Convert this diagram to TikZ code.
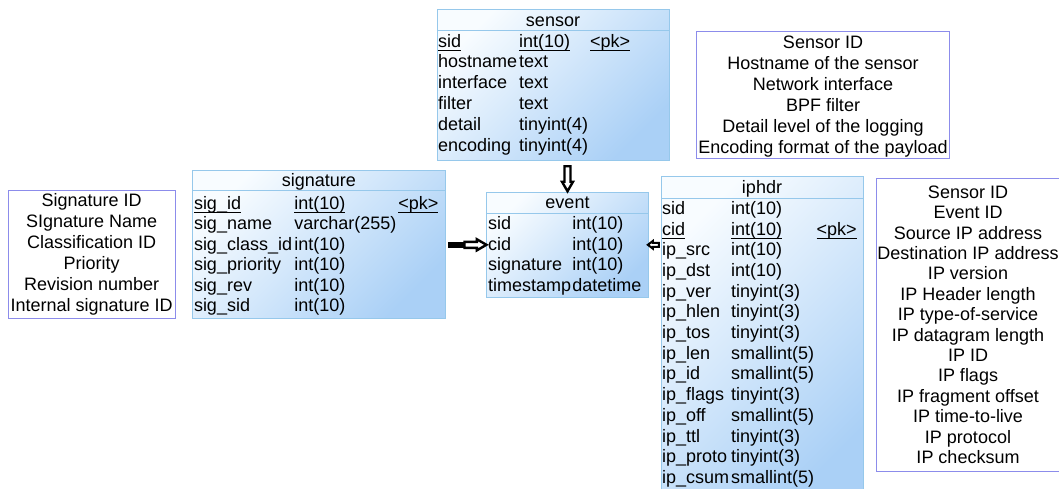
\documentclass[tikz,border=0pt]{standalone}
\usepackage{fontspec}
\setmainfont{Liberation Sans}
\usetikzlibrary{shapes.arrows}
\definecolor{entb}{RGB}{150,200,235}
\definecolor{enttop}{RGB}{248,252,255}
\definecolor{entbot}{RGB}{170,208,246}
\definecolor{descb}{RGB}{140,140,235}
\newcommand\fs{\fontsize{18pt}{21pt}\selectfont}
\newcommand\ulx[1]{\setbox0\hbox{#1}\rlap{\rule[-3.6pt]{\wd0}{1.1pt}}\box0}
\begin{document}
\begin{tikzpicture}[x=1pt,y=1pt,
 entity/.style={draw=entb, line width=0.9pt, top color=enttop, bottom color=entbot, shading angle=45, anchor=north west, inner sep=0, outer sep=0},
 cell/.style={anchor=base west, inner sep=0, outer sep=0, font=\fs},
 ttl/.style={anchor=base, inner sep=0, font=\fs},
 desc/.style={draw=descb, line width=0.8pt, fill=white, anchor=north west, inner sep=0, outer sep=0},
 dline/.style={anchor=base, inner sep=0, font=\fs},
 sepline/.style={draw=entb, line width=0.9pt},
 blockarrow/.style={single arrow, draw=black, line width=2.4pt, fill=white, inner xsep=0pt, inner ysep=1.8pt, outer sep=0, single arrow head extend=2.5pt, single arrow tip angle=60, line join=miter},
 smallarrow/.style={single arrow, draw=black, line width=2pt, fill=white, inner xsep=0pt, inner ysep=1pt, outer sep=0, single arrow head extend=1.8pt, single arrow tip angle=75}
]
\useasboundingbox (0,0) rectangle (1059,-488);

% ---------------- sensor ----------------
\node[entity, minimum width=231.5, minimum height=151] (sensor) at (437.5,-9) {};
\draw[sepline] (437.5,-30.5) -- (669,-30.5);
\node[ttl] (sensorT) at (553,-26.5) {sensor};
\node[cell] (sensorN0) at (438,-47) {\ulx{sid}};
\node[cell] (sensorT0) at (519,-47) {\ulx{int(10)}};
\node[cell] (sensorP0) at (590,-47) {\ulx{<pk>}};
\foreach \n/\t [count=\i] in {hostname/text, interface/text, filter/text, detail/tinyint(4), encoding/tinyint(4)}{
  \node[cell] (sensorN\i) at (438,{-47-20.8*\i}) {\n};
  \node[cell] (sensorT\i) at (519,{-47-20.8*\i}) {\t};
}

% ---------------- signature ----------------
\node[entity, minimum width=252.5, minimum height=148] (signature) at (192.5,-170) {};
\draw[sepline] (192.5,-190.5) -- (445,-190.5);
\node[ttl] (signatureT) at (318.8,-186.7) {signature};
\node[cell] (sigN0) at (194,-209) {\ulx{sig\_id}};
\node[cell] (sigT0) at (294.3,-209) {\ulx{int(10)}};
\node[cell] (sigP0) at (398.3,-209) {\ulx{<pk>}};
\foreach \n/\t [count=\i] in {sig\_name/varchar(255), sig\_class\_id/int(10), sig\_priority/int(10), sig\_rev/int(10), sig\_sid/int(10)}{
  \node[cell] (sigN\i) at (194,{-209-20.5*\i}) {\n};
  \node[cell] (sigT\i) at (294.3,{-209-20.5*\i}) {\t};
}

% ---------------- event ----------------
\node[entity, minimum width=161.6, minimum height=105] (event) at (486.7,-192.3) {};
\draw[sepline] (486.7,-213.3) -- (648.3,-213.3);
\node[ttl] (eventT) at (567.5,-208.3) {event};
\foreach \n/\t [count=\i from 0] in {sid/int(10), cid/int(10), signature/int(10), timestamp/datetime}{
  \node[cell] (evN\i) at (488,{-229.5-20.6*\i}) {\n};
  \node[cell] (evT\i) at (572.3,{-229.5-20.6*\i}) {\t};
}

% ---------------- iphdr ----------------
\node[entity, minimum width=202.3, minimum height=330] (iphdr) at (661,-176) {};
\draw[sepline] (661,-198.5) -- (863.3,-198.5);
\node[ttl] (iphdrT) at (762,-193.3) {iphdr};
\node[cell] (ipN0) at (662,-214.3) {sid};
\node[cell] (ipT0) at (731,-214.3) {int(10)};
\node[cell] (ipN1) at (662,-235) {\ulx{cid}};
\node[cell] (ipT1) at (731,-235) {\ulx{int(10)}};
\node[cell] (ipP1) at (816.7,-235) {\ulx{<pk>}};
\foreach \n/\t [count=\i from 2] in {ip\_src/int(10), ip\_dst/int(10), ip\_ver/tinyint(3), ip\_hlen/tinyint(3), ip\_tos/tinyint(3), ip\_len/smallint(5), ip\_id/smallint(5), ip\_flags/tinyint(3), ip\_off/smallint(5), ip\_ttl/tinyint(3), ip\_proto/tinyint(3), ip\_csum/smallint(5)}{
  \node[cell] (ipN\i) at (662,{-214.3-20.7*\i}) {\n};
  \node[cell] (ipT\i) at (731,{-214.3-20.7*\i}) {\t};
}

% ---------------- descriptions ----------------
\node[desc, minimum width=166.7, minimum height=128.3] (sigdesc) at (8.3,-190) {};
\foreach \l [count=\i from 0] in {Signature ID, SIgnature Name, Classification ID, Priority, Revision number, Internal signature ID}{
  \node[dline] (sigdescL\i) at (91.7,{-206.7-21*\i}) {\l};
}
\node[desc, minimum width=252.6, minimum height=127.3] (sensdesc) at (696.7,-31) {};
\foreach \l [count=\i from 0] in {Sensor ID, Hostname of the sensor, Network interface, BPF filter, Detail level of the logging, Encoding format of the payload}{
  \node[dline] (sensdescL\i) at (823,{-48.3-21*\i}) {\l};
}
\node[desc, minimum width=183.5, minimum height=293.4] (ipdesc) at (876.7,-178.3) {};
\foreach \l [count=\i from 0] in {Sensor ID, Event ID, Source IP address, Destination IP address, IP version, IP Header length, IP type-of-service, IP datagram length, IP ID, IP flags, IP fragment offset, IP time-to-live, IP protocol, IP checksum}{
  \node[dline] (ipdescL\i) at (968,{-198.3-20.4*\i}) {\l};
}

% ---------------- connectors ----------------
\path (event.north |- sensor.south) -- (event.north)
  node[midway, blockarrow, rotate=-90, minimum height=25pt] (a1) {};
\path ([xshift=15pt]signature.east |- event.west) -- ([xshift=-1pt]event.west)
  node[midway, blockarrow, minimum height=22pt] (a2) {};
\draw[line width=6pt] ([xshift=3pt]signature.east |- event.west) -- ([xshift=19pt]signature.east |- event.west);
\path (iphdr.west |- event.east) -- (event.east)
  node[midway, smallarrow, rotate=180, minimum height=11pt] (a3) {};
\end{tikzpicture}
\end{document}
